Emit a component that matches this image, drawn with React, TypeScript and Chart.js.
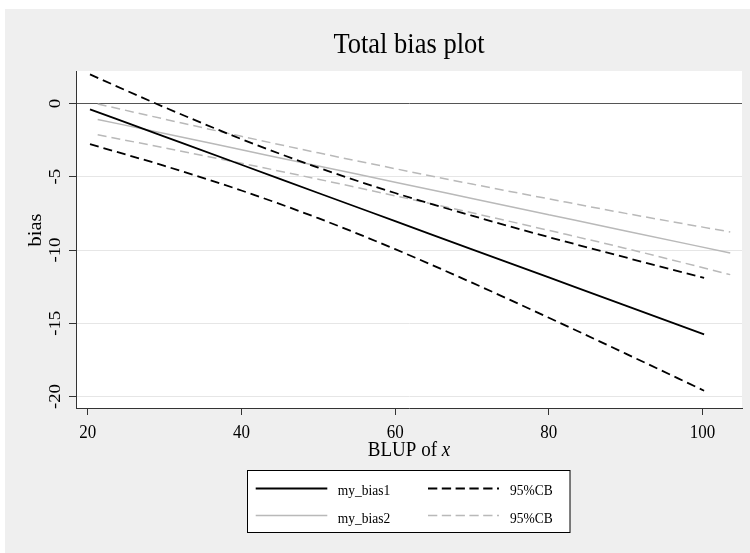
import React, { useEffect, useRef } from "react";
import { Chart, registerables } from "chart.js";
Chart.register(...registerables);

// ---- data ----
const xBlack = [20.3, 30, 40, 50, 60, 70, 80, 90, 100.2];
const myBias1 = [-0.4, -2.26, -4.18, -6.11, -8.03, -9.95, -11.87, -13.79, -15.75];
const cb1Upper = [1.98, -0.26, -2.43, -4.38, -6.11, -7.66, -9.12, -10.51, -11.9];
const cb1Lower = [-2.78, -4.26, -5.94, -7.83, -9.94, -12.23, -14.62, -17.07, -19.6];

const xGray = [21.3, 30, 40, 50, 60, 70, 80, 90, 103.6];
const myBias2 = [-1.09, -2.05, -3.16, -4.27, -5.37, -6.48, -7.59, -8.7, -10.2];
const cb2Upper = [-0.03, -1.07, -2.24, -3.37, -4.45, -5.5, -6.51, -7.5, -8.77];
const cb2Lower = [-2.14, -3.03, -4.08, -5.17, -6.3, -7.46, -8.66, -9.89, -11.68];

const xTicks = [20, 40, 60, 80, 100];
const yTicks = [-20, -15, -10, -5, 0];

const chartTitle = "Total bias plot";
const xTitleMain = "BLUP of ";
const xTitleItalic = "x";
const yTitle = "bias";
const seriesLabels = ["my_bias1", "95%CB", "", "my_bias2", "95%CB", ""];

const BLACK = "#000000";
const GRAY = "#b9b9b9";
const BG = "#efefef";
const FONT = '"Liberation Serif", "Times New Roman", serif';
const STRETCH = 1.1;

const pts = (xs: number[], ys: number[]) => xs.map((x, i) => ({ x, y: ys[i] }));

function txt(
  ctx: CanvasRenderingContext2D,
  s: string,
  x: number,
  y: number,
  size: number,
  align: CanvasTextAlign,
  baseline: CanvasTextBaseline,
  rot = false,
  italic = false
) {
  ctx.save();
  ctx.translate(x, y);
  ctx.scale(1, STRETCH);
  if (rot) ctx.rotate(-Math.PI / 2);
  ctx.font = `${italic ? "italic " : ""}${size}px ${FONT}`;
  ctx.textAlign = align;
  ctx.textBaseline = baseline;
  ctx.fillStyle = "#000";
  ctx.fillText(s, 0, 0);
  ctx.restore();
}

const decorPlugin = {
  id: "decor",
  beforeDraw(chart: any) {
    const { ctx, chartArea: a, width, height } = chart;
    ctx.save();
    ctx.fillStyle = BG;
    ctx.fillRect(0, 0, width, height);
    ctx.fillStyle = "#ffffff";
    ctx.fillRect(a.left, a.top, a.right - a.left, a.bottom - a.top);
    ctx.restore();
  },
  afterDraw(chart: any) {
    const { ctx, chartArea: a } = chart;
    const xs = chart.scales.x;
    const ys = chart.scales.y;
    const cx = (a.left + a.right) / 2;

    // title
    txt(ctx, chartTitle, cx, 44.3, 26.5, "center", "alphabetic");

    // x tick labels
    xs.ticks.forEach((t: any) => {
      txt(ctx, String(t.value), xs.getPixelForValue(t.value), 428.7, 17, "center", "alphabetic");
    });
    // y tick labels (rotated)
    ys.ticks.forEach((t: any) => {
      txt(ctx, String(t.value), 54.5, ys.getPixelForValue(t.value), 17, "center", "alphabetic", true);
    });

    // x title with italic x
    ctx.save();
    ctx.font = `19px ${FONT}`;
    const w1 = ctx.measureText(xTitleMain).width;
    ctx.font = `italic 19px ${FONT}`;
    const w2 = ctx.measureText(xTitleItalic).width;
    ctx.restore();
    const start = cx - (w1 + w2) / 2;
    txt(ctx, xTitleMain, start, 446.7, 19, "left", "alphabetic");
    txt(ctx, xTitleItalic, start + w1, 446.7, 19, "left", "alphabetic", false, true);

    // y title
    txt(ctx, yTitle, 36, 221, 18.5, "center", "alphabetic", true);

    // legend
    const bx = 242.5, by = 461.5, bw = 322.5, bh = 62;
    ctx.save();
    ctx.fillStyle = "#ffffff";
    ctx.fillRect(bx, by, bw, bh);
    ctx.strokeStyle = "#000";
    ctx.lineWidth = 1;
    ctx.strokeRect(bx, by, bw, bh);
    ctx.restore();

    const entries = [
      { ds: 0, col: 0, row: 0 },
      { ds: 1, col: 1, row: 0 },
      { ds: 3, col: 0, row: 1 },
      { ds: 4, col: 1, row: 1 },
    ];
    const colSample = [
      [250.7, 322.3],
      [423, 494],
    ];
    const colText = [332.7, 505];
    const rowLine = [479.5, 506.5];
    const rowText = [486, 513.5];
    entries.forEach((e) => {
      const d = chart.data.datasets[e.ds];
      ctx.save();
      ctx.strokeStyle = d.borderColor;
      ctx.lineWidth = d.borderWidth;
      ctx.setLineDash(d.borderDash && d.borderDash.length ? [9.3, 4.5] : []);
      ctx.beginPath();
      ctx.moveTo(colSample[e.col][0], rowLine[e.row]);
      ctx.lineTo(colSample[e.col][1], rowLine[e.row]);
      ctx.stroke();
      ctx.restore();
      txt(ctx, d.label, colText[e.col], rowText[e.row], 13.5, "left", "alphabetic");
    });
  },
};

export default function App() {
  const ref = useRef<HTMLCanvasElement | null>(null);

  useEffect(() => {
    if (!ref.current) return;
    const mk = (label: string, xsArr: number[], ysArr: number[], color: string, dashed: boolean, width: number) => ({
      label,
      data: pts(xsArr, ysArr),
      borderColor: color,
      backgroundColor: color,
      borderWidth: width,
      borderDash: dashed ? [9, 5] : [],
      pointRadius: 0,
      fill: false,
      cubicInterpolationMode: "monotone" as const,
    });
    const chart = new Chart(ref.current, {
      type: "line",
      data: {
        datasets: [
          mk(seriesLabels[0], xBlack, myBias1, BLACK, false, 1.8),
          mk(seriesLabels[1], xBlack, cb1Upper, BLACK, true, 1.8),
          mk(seriesLabels[2], xBlack, cb1Lower, BLACK, true, 1.8),
          mk(seriesLabels[3], xGray, myBias2, GRAY, false, 1.5),
          mk(seriesLabels[4], xGray, cb2Upper, GRAY, true, 1.5),
          mk(seriesLabels[5], xGray, cb2Lower, GRAY, true, 1.5),
        ],
      },
      options: {
        animation: false,
        responsive: false,
        devicePixelRatio: 1,
        events: [],
        layout: { padding: { top: 62, right: 8, left: 0, bottom: 0 } },
        plugins: {
          legend: { display: false },
          title: { display: false },
          tooltip: { enabled: false },
        },
        scales: {
          x: {
            type: "linear",
            min: 18.48,
            max: 105.13,
            afterBuildTicks: (s: any) => {
              s.ticks = xTicks.map((v) => ({ value: v }));
            },
            afterFit: (s: any) => {
              s.height = 145;
            },
            ticks: { display: false },
            grid: {
              drawOnChartArea: false,
              drawTicks: true,
              tickLength: 7,
              tickColor: "#333",
              tickWidth: 1,
            },
            border: { display: true, color: "#333", width: 1 },
          },
          y: {
            type: "linear",
            min: -20.78,
            max: 2.215,
            afterBuildTicks: (s: any) => {
              s.ticks = yTicks.map((v) => ({ value: v }));
            },
            afterFit: (s: any) => {
              s.width = 71;
            },
            ticks: { display: false },
            grid: {
              color: (c: any) => (c.tick && c.tick.value === 0 ? "#555555" : "#e6e6e6"),
              lineWidth: 1,
              drawTicks: true,
              tickLength: 7,
              tickColor: "#333",
              tickWidth: 1,
            },
            border: { display: true, color: "#333", width: 1 },
          },
        },
      },
      plugins: [decorPlugin],
    });
    return () => chart.destroy();
  }, []);

  return (
    <div style={{ position: "absolute", left: 5, top: 9, width: 745, height: 544 }}>
      <canvas ref={ref} width={745} height={544} style={{ width: 745, height: 544, display: "block" }} />
    </div>
  );
}
